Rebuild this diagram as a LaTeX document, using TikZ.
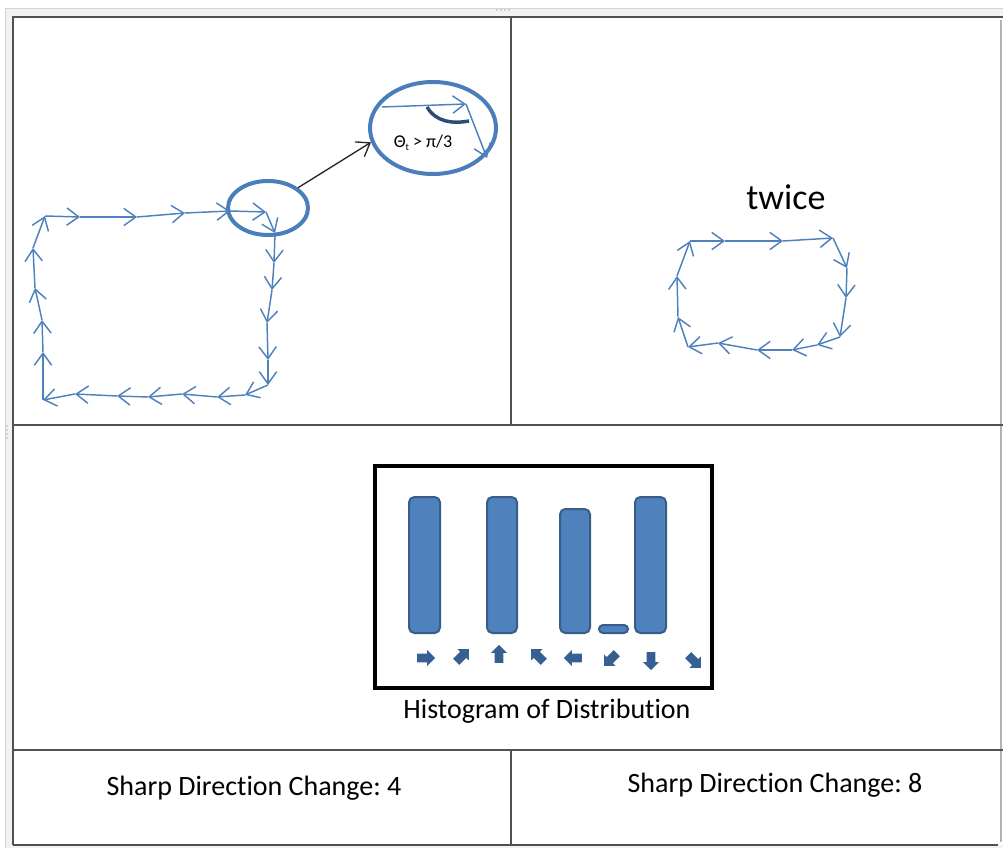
\documentclass[tikz,border=0pt]{standalone}
\usepackage{fontspec}
\setmainfont{Carlito}[Ligatures=NoCommon]
\usetikzlibrary{arrows.meta,shapes.geometric,shapes.arrows}
\definecolor{trk}{HTML}{4F81BD}
\definecolor{ell}{HTML}{4A7EBB}
\definecolor{barfill}{HTML}{4F81BD}
\definecolor{barline}{HTML}{385D8A}
\definecolor{darr}{HTML}{376092}
\definecolor{arcc}{HTML}{2C4D75}
\definecolor{frm}{HTML}{505050}
\frenchspacing
\begin{document}
\begin{tikzpicture}[x=0.75pt,y=-0.75pt,
 trk/.style={draw=trk, line width=1.1pt, -{Straight Barb[length=9pt,width=13pt]}},
 ellnode/.style={ellipse, draw=ell, line width=3pt, inner sep=0pt},
 bar/.style={fill=barfill, draw=barline, line width=1.5pt, rounded corners=4pt},
 dirarrow/.style={single arrow, fill=darr, draw=none, inner sep=3pt, minimum height=13.5pt, single arrow head extend=2.8pt},
 lbl/.style={inner sep=0pt, font=\fontsize{21}{24}\selectfont},
 frameline/.style={draw=frm, line width=1.5pt}]
\useasboundingbox (0,0) rectangle (1003,848);
% window chrome
\fill[gray!10] (5,8) rectangle (1003,17);
\fill[gray!10] (5,8) rectangle (13,848);
\fill[gray!10] (5,845) rectangle (1003,848);
\draw[gray!35, line width=0.6pt] (5,848) -- (5,8) -- (1003,8);
\foreach \gx in {497,501,505,509} \fill[gray!60] (\gx,10) circle (0.8);
\foreach \gy in {426,430,434,438} \fill[gray!60] (7,\gy) circle (0.8);
% frame
\draw[frameline] (13,845) -- (13,17) -- (1003,17);
\draw[frameline] (13,845) -- (998,845);
\draw[gray!60, line width=1pt] (1001,20) -- (1001,842);
\draw[frameline] (511,17) -- (511,425);
\draw[frameline] (13,425) -- (1003,425);
\draw[frameline] (13,750) -- (1003,750);
\draw[frameline] (511,750) -- (511,845);
% left trajectory
\foreach \x/\y [remember=\x as \px (initially 45), remember=\y as \py (initially 216)] in
 {80/217, 137/217, 185/213, 230/211, 266/212, 275/233, 274/263, 272/290, 267/323, 268/360, 268/385,
  245/395, 217/397, 182/394, 148/397, 117/396, 75/394, 43/400,
  43/352, 42/320, 35/288, 33/248, 45/216}
 \draw[trk] (\px,\py) -- (\x,\y);
% ellipses
\node[ellnode, minimum width=60pt, minimum height=40.5pt] (small) at (268,208) {};
\node[ellnode, minimum width=94.5pt, minimum height=69pt] (big) at (433,128) {};
\draw[black!85, line width=1pt, -{Straight Barb[length=9pt,width=13pt]}] (small.34) -- (big.193);
\draw[trk] (382,107) -- (466,104);
\draw[trk] (466,104) -- (487,158);
\draw[arcc, line width=2.6pt] (427,107) .. controls (436,122) and (452,124) .. (469,121);
\node[inner sep=0pt, font=\fontsize{13.5}{15}\selectfont] (theta) at (423,143) {Θ\raisebox{-0.35ex}{\fontsize{7.5}{8}\selectfont t} > π/3};
% right trajectory
\node[inner sep=0pt, font=\fontsize{27}{30}\selectfont] (twice) at (786,197) {twice};
\foreach \x/\y [remember=\x as \px (initially 690), remember=\y as \py (initially 241)] in
 {725/241, 783/241, 833/238, 847/268, 846/298, 840/337,
  817/345, 792/350, 757/350, 718/343, 688/347,
  678/317, 677/276, 690/241}
 \draw[trk] (\px,\py) -- (\x,\y);
% histogram
\draw[black, line width=2.3pt] (375,466) rectangle (712,688);
\draw[bar] (409,497) rectangle (440,633);
\draw[bar] (487,497) rectangle (517,633);
\draw[bar] (560,509) rectangle (590,633);
\draw[bar, rounded corners=3pt] (599,625) rectangle (628,633);
\draw[bar] (635,497) rectangle (666,633);
\foreach \ax/\ay/\ang [count=\i] in {424/658/0, 461/657/45, 499/656/90, 539/657/135, 575/658/180, 612/658/225, 651/659/270, 693/660/315}
 \node[dirarrow, rotate=\ang] (d\i) at (\ax,\ay) {};
\node[lbl] (hist) at (547,711) {Histogram of Distribution};
% bottom labels
\node[lbl] (s4) at (254,788) {Sharp Direction Change: 4};
\node[lbl] (s8) at (775,785) {Sharp Direction Change: 8};
\end{tikzpicture}
\end{document}
